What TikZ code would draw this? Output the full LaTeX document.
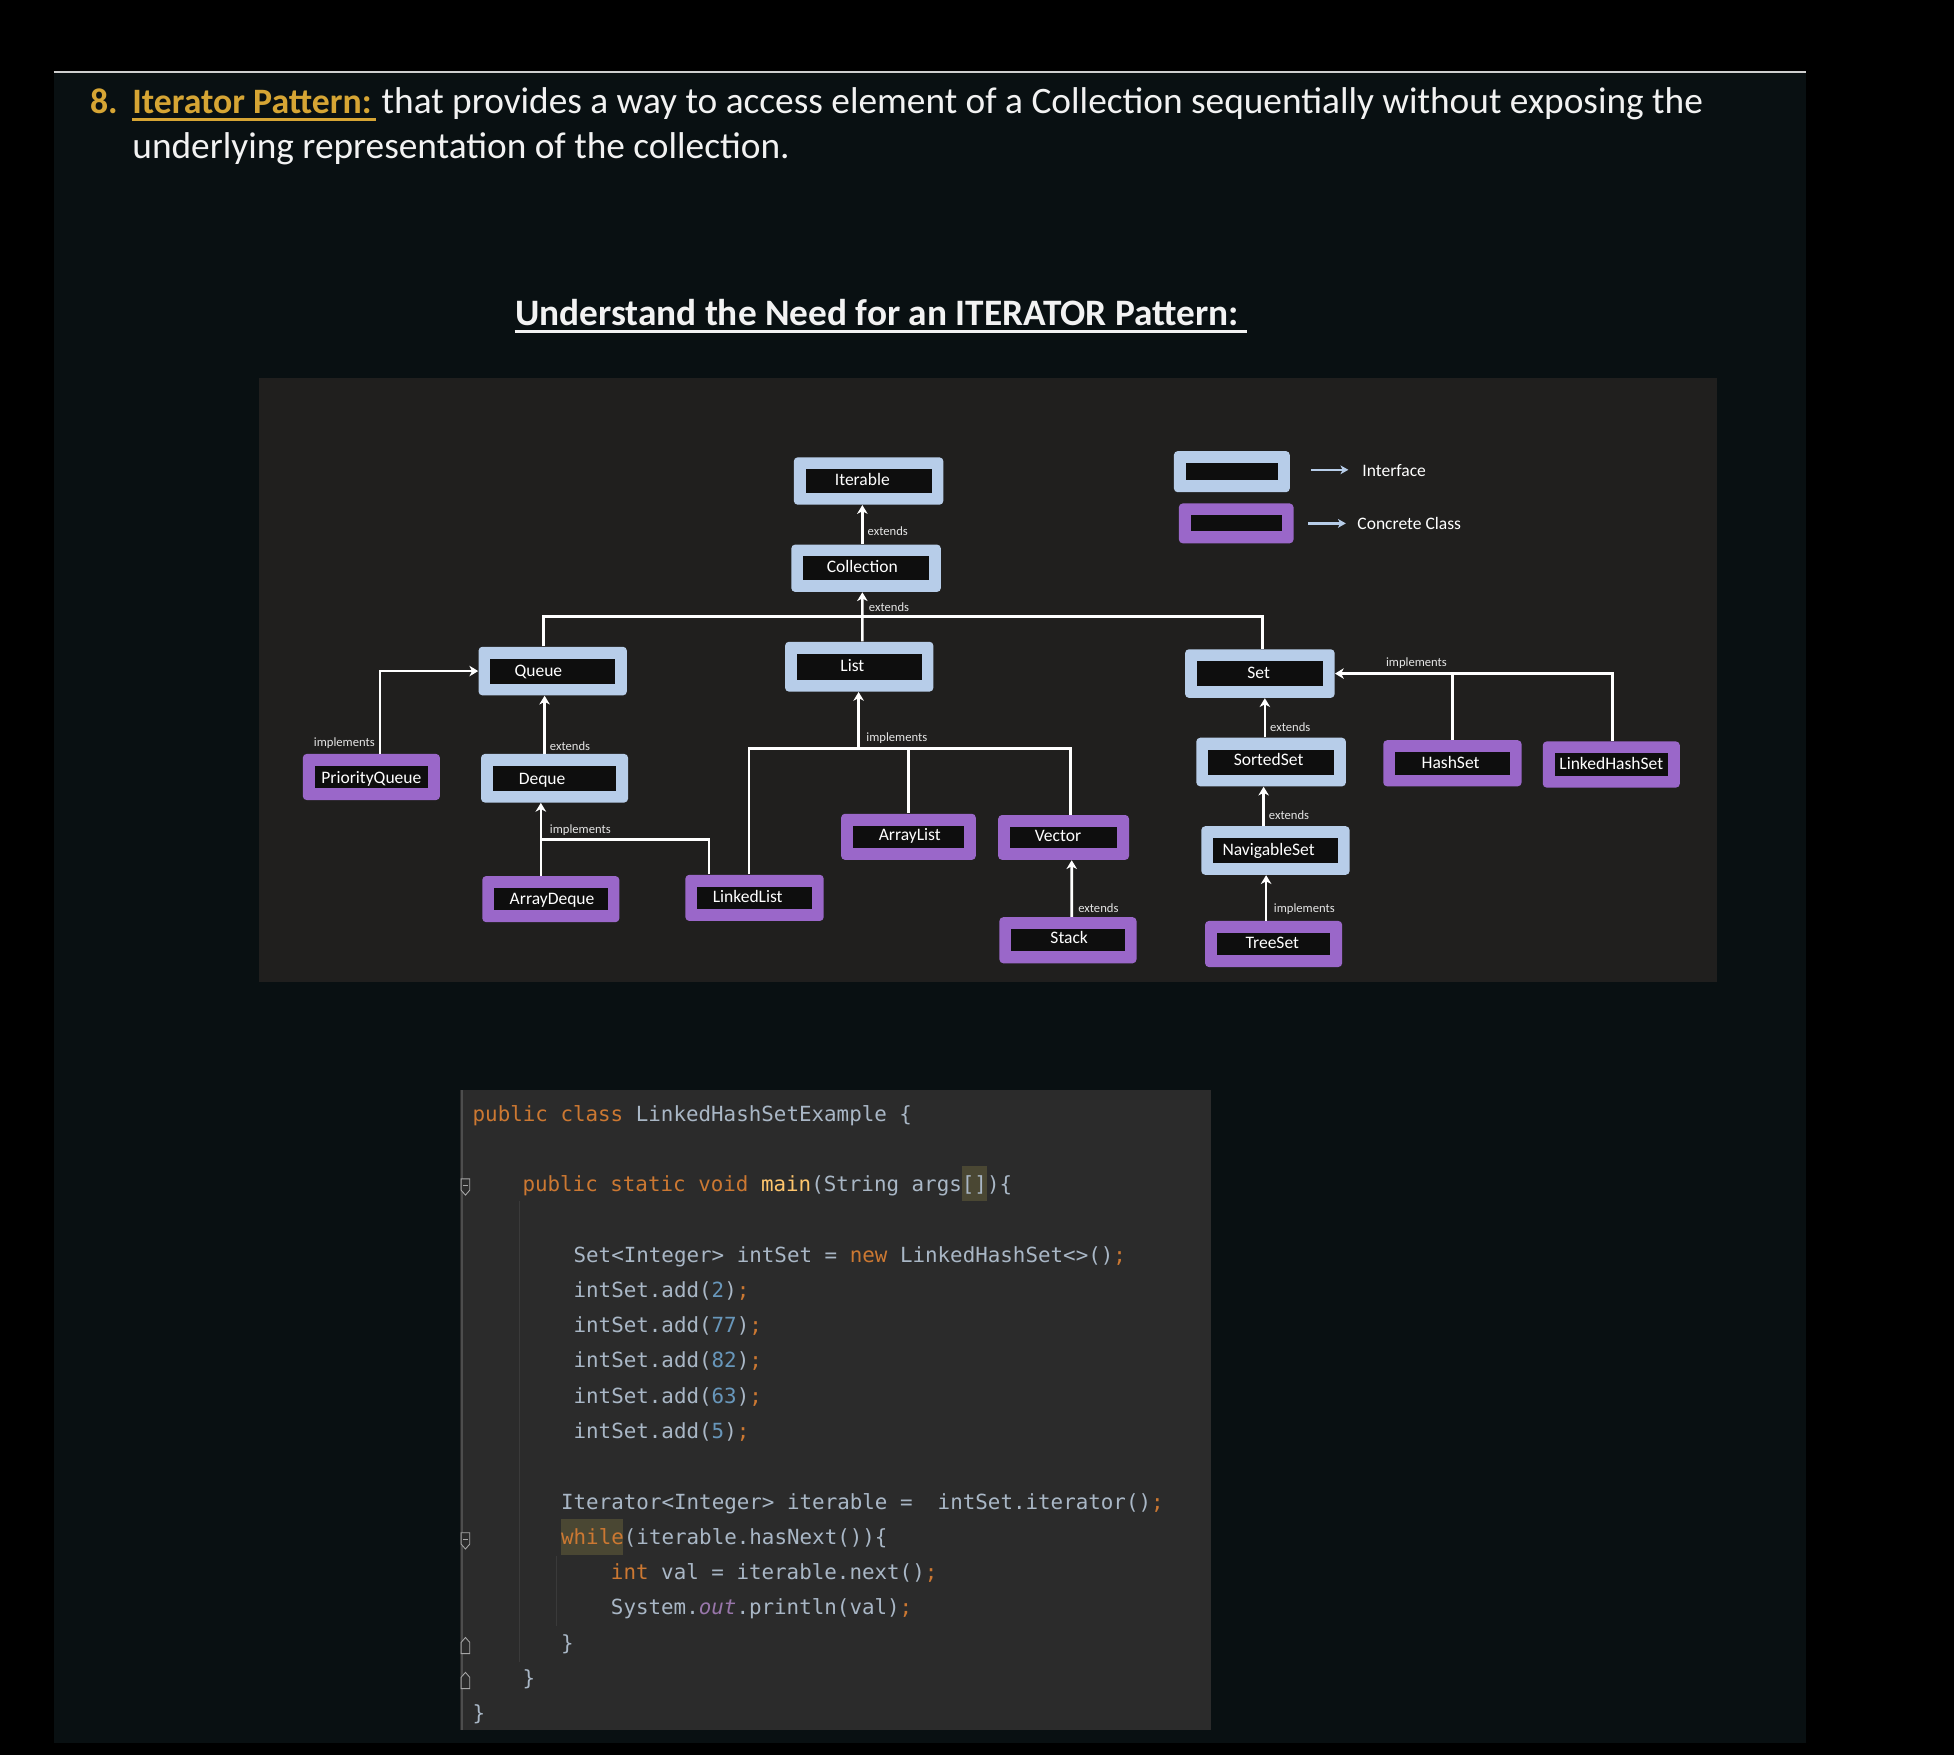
\documentclass[tikz,border=0pt]{standalone}
\usepackage{fontspec}
\setmainfont{Carlito}
\newfontfamily\codefont{DejaVu Sans Mono}
\usetikzlibrary{arrows.meta,calc}
\definecolor{tealbg}{HTML}{091012}
\definecolor{panelbg}{HTML}{201F1E}
\definecolor{ifc}{HTML}{B7CDE9}
\definecolor{cls}{HTML}{9A67C9}
\definecolor{innerc}{HTML}{0E0E0E}
\definecolor{gold}{HTML}{D6A534}
\definecolor{titlewhite}{HTML}{F2F2F2}
\definecolor{rulegray}{HTML}{CFCFCF}
\definecolor{codebg}{HTML}{2B2B2B}
\definecolor{gutter}{HTML}{4D4D4D}
\definecolor{guide}{HTML}{3A3A3A}
\definecolor{ckw}{HTML}{CC7832}
\definecolor{cpl}{HTML}{A9B7C6}
\definecolor{cnum}{HTML}{6897BB}
\definecolor{cfn}{HTML}{FFC66D}
\definecolor{cfield}{HTML}{9876AA}
\definecolor{chl}{HTML}{4A4733}
\newcommand\cK[1]{\textcolor{ckw}{#1}}
\newcommand\cN[1]{\textcolor{cnum}{#1}}
\newcommand\cF[1]{\textcolor{cfn}{#1}}
\newcommand\cO[1]{\textcolor{cfield}{\itshape #1}}
\newcommand\titlesize{\fontsize{21.3}{25}\selectfont}
\newcommand\goldsize{\fontsize{20.4}{25}\selectfont}
\newcommand\umlbox[9]{%
  \node[ubox,fill=#2,minimum width=#5*0.025cm,minimum height=#6*0.025cm] (#1) at (#3,#4) {};
  \node[ntext] (#1-t) at (#7,#8) {#9};}
\newcommand\foldopen[2]{%
  \filldraw[draw=gray!70,fill=codebg,line width=0.5pt] (370,#2)--(377,#2)--(377,#2+9)--(373.5,#2+13)--(370,#2+9)--cycle;
  \draw[gray!70,line width=0.5pt] (371.5,#2+5.5)--(375.5,#2+5.5);}
\newcommand\foldclose[2]{%
  \filldraw[draw=gray!70,fill=codebg,line width=0.5pt] (370,#2+13)--(377,#2+13)--(377,#2+4)--(373.5,#2)--(370,#2+4)--cycle;}
\begin{document}
\begin{tikzpicture}[x=0.025cm,y=-0.025cm,
  ubox/.style={rectangle,rounded corners=2.2pt,inner sep=0pt,draw=none,
    path picture={\fill[innerc,sharp corners] ($(path picture bounding box.north west)+(9.5,9.5)$) rectangle ($(path picture bounding box.south east)+(-9.5,-9.5)$);}},
  ntext/.style={text=white,font=\fontsize{10}{12}\selectfont,inner sep=0pt,anchor=base},
  lbl/.style={text=white!90!black,font=\fontsize{7.2}{9}\selectfont,inner sep=0pt,anchor=base west},
  wire/.style={draw=white,line width=1.5pt},
  arr/.style={wire,-{Stealth[length=5pt,width=6pt,inset=1.5pt]}},
  legarr/.style={draw=ifc,line width=1.3pt,-{Stealth[length=4.5pt,width=5pt,inset=1.2pt]}},
  ttl/.style={anchor=base west,inner sep=0pt,font=\titlesize},
  code/.style={font=\codefont\fontsize{11.9}{14}\selectfont,text=cpl,inner sep=0pt,anchor=base west}]
\useasboundingbox (0,0) rectangle (1568,1408);
\fill[black] (0,0) rectangle (1568,1408);
\fill[tealbg] (43,58) rectangle (1449,1399);
\draw[rulegray,line width=1.1pt] (43,57.5) -- (1449,57.5);
% titles
\node[ttl,text=gold,font=\goldsize\bfseries] (num) at (72,91) {8.};
\node[ttl,text=gold,font=\goldsize\bfseries] (ip) at (106,91) {Iterator Pattern:};
\draw[gold,line width=1.8pt] ($(ip.base west)+(0,4.8)$) -- ++(196,0);
\node[ttl,text=titlewhite] (desc) at (306,91) {that provides a way to access element of a Collection sequentially without exposing the};
\node[ttl,text=titlewhite] (desc2) at (106,127) {underlying representation of the collection.};
\node[ttl,text=titlewhite,font=\titlesize\bfseries] (head) at (413,261) {Understand the Need for an ITERATOR Pattern:};
\draw[titlewhite,line width=1.8pt] ($(head.base west)+(0,5)$) -- ++(588,0);
% diagram panel
\fill[panelbg] (208,303) rectangle (1378,788);
\umlbox{iterable}{ifc}{697}{386}{120}{38}{692}{389.5}{Iterable}
\umlbox{collection}{ifc}{695}{456}{120}{38}{692}{459.5}{Collection}
\umlbox{list}{ifc}{689.5}{535}{119}{40}{684}{538.5}{List}
\umlbox{queue}{ifc}{443.5}{538.5}{119}{39}{432}{542.5}{Queue}
\umlbox{deque}{ifc}{445}{624.5}{118}{39}{435}{629.5}{Deque}
\umlbox{pq}{cls}{298}{623.5}{110}{37}{298}{628.5}{PriorityQueue}
\umlbox{arraydeque}{cls}{442}{721.5}{110}{37}{443}{725.5}{ArrayDeque}
\umlbox{linkedlist}{cls}{605.5}{720.5}{111}{37}{600}{724.5}{LinkedList}
\umlbox{arraylist}{cls}{729}{671.5}{108}{37}{730}{674.5}{ArrayList}
\umlbox{vector}{cls}{853.5}{672}{105}{36}{849}{675.5}{Vector}
\umlbox{stack}{cls}{857}{754.5}{110}{37}{858}{757.5}{Stack}
\umlbox{set}{ifc}{1011}{540.5}{120}{39}{1010}{544.5}{Set}
\umlbox{sortedset}{ifc}{1020}{611.5}{120}{39}{1018}{614.5}{SortedSet}
\umlbox{navset}{ifc}{1023.5}{682.5}{119}{39}{1018}{686.5}{NavigableSet}
\umlbox{treeset}{cls}{1022}{757.5}{110}{37}{1021}{761.5}{TreeSet}
\umlbox{hashset}{cls}{1165.5}{612.5}{111}{37}{1164}{616.5}{HashSet}
\umlbox{lhs}{cls}{1293}{613.5}{110}{37}{1293}{617.5}{LinkedHashSet}
% legend
\node[ubox,fill=ifc,minimum width=93*0.025cm,minimum height=33*0.025cm] (legI) at (988.5,378.5) {};
\node[ubox,fill=cls,minimum width=92*0.025cm,minimum height=32*0.025cm] (legC) at (992,420) {};
\coordinate (la1) at (1052,377);
\coordinate (la2) at (1050,420);
\node[anchor=base west,inner sep=0pt,text=white,font=\fontsize{10}{12}\selectfont] (legIt) at (1093,382.5) {Interface};
\node[anchor=base west,inner sep=0pt,text=white,font=\fontsize{10}{12}\selectfont] (legCt) at (1089,424.5) {Concrete Class};
\draw[legarr] (la1) -- ++(30,0);
\draw[legarr] (la2) -- ++(30,0);
% connectors
\draw[arr] ($(collection.north)+(-3,0)$) -- ($(iterable.south)+(-5,0)$);
\draw[arr] ($(list.north)+(2.5,0)$) -- ($(collection.south)+(-3,0)$);
\draw[wire] ($(queue.north)+(-7.5,0)$) |- ($(set.north)+(2,-26)$) -- ($(set.north)+(2,0)$);
\draw[arr] ($(pq.north)+(7,0)$) |- (queue.west);
\draw[arr] ($(deque.north)+(-8,0)$) -- ($(queue.south)+(-6.5,0)$);
\draw[arr] ($(arraydeque.north)+(-8,0)$) -- ($(deque.south)+(-11,0)$);
\draw[wire] ($(linkedlist.north)+(-36.5,0)$) |- ($(arraydeque.north)+(-8,-29)$);
\draw[wire] ($(linkedlist.north)+(-4.5,0)$) |- ($(vector.north)+(5.5,-53)$) -- ($(vector.north)+(5.5,0)$);
\draw[wire] (arraylist.north) -- ++(0,-52);
\draw[arr] ($(list.south)+(-0.5,46)$) -- ($(list.south)+(-0.5,0)$);
\draw[arr] ($(stack.north)+(3,0)$) -- ($(vector.south)+(6.5,0)$);
\draw[arr] ($(sortedset.north)+(-5,0)$) -- ($(set.south)+(4,0)$);
\draw[arr] ($(navset.north)+(-9.5,0)$) -- ($(sortedset.south)+(-6,0)$);
\draw[arr] ($(treeset.north)+(-6,0)$) -- ($(navset.south)+(-7.5,0)$);
\draw[arr] ($(lhs.north)+(1,0)$) |- (set.east);
\draw[wire] (hashset.north) -- ++(0,-54);
% labels
\node[lbl] (l-ci) at (696,430) {extends};
\node[lbl] (l-lc) at (697,491) {extends};
\node[lbl,anchor=base east] (l-pq) at (301,599) {implements};
\node[lbl] (l-dq) at (441,602) {extends};
\node[lbl] (l-ad) at (441,669) {implements};
\node[lbl] (l-li) at (695,595) {implements};
\node[lbl] (l-st) at (865,732) {extends};
\node[lbl] (l-ss) at (1019,587) {extends};
\node[lbl] (l-ns) at (1018,658) {extends};
\node[lbl] (l-ts) at (1022,732) {implements};
\node[lbl] (l-hs) at (1112,535) {implements};
% code block
\fill[codebg] (369,875) rectangle (972,1388);
\draw[gutter,line width=1.1pt] (370.5,875) -- (370.5,1388);
\draw[guide,line width=0.7pt] (416.9,964) -- (416.9,1334);
\draw[guide,line width=0.7pt] (446.8,1249) -- (446.8,1305);
\fill[chl] (772,936) rectangle (792,964);
\fill[chl] (450,1219) rectangle (500,1248);
\foldopen{a}{946}
\foldopen{b}{1230}
\foldclose{c}{1314}
\foldclose{d}{1342}
\node[code] (c0) at (379,899.6) {\cK{public class }LinkedHashSetExample \{};
\node[code] (c2) at (419,956.2) {\cK{public static void }\cF{main}(String args[])\{};
\node[code] (c4) at (460,1012.8) {Set<Integer> intSet = \cK{new }LinkedHashSet<>()\cK{;}};
\node[code] (c5) at (460,1041.1) {intSet.add(\cN{2})\cK{;}};
\node[code] (c6) at (460,1069.4) {intSet.add(\cN{77})\cK{;}};
\node[code] (c7) at (460,1097.7) {intSet.add(\cN{82})\cK{;}};
\node[code] (c8) at (460,1126) {intSet.add(\cN{63})\cK{;}};
\node[code] (c9) at (460,1154.3) {intSet.add(\cN{5})\cK{;}};
\node[code] (c11) at (450,1210.9) {Iterator<Integer> iterable =\ \ intSet.iterator()\cK{;}};
\node[code] (c12) at (450,1239.2) {\cK{while}(iterable.hasNext())\{};
\node[code] (c13) at (490,1267.5) {\cK{int }val = iterable.next()\cK{;}};
\node[code] (c14) at (490,1295.8) {System.\cO{out}.println(val)\cK{;}};
\node[code] (c15) at (450,1324.1) {\}};
\node[code] (c16) at (419,1352.4) {\}};
\node[code] (c17) at (379,1380.7) {\}};
\end{tikzpicture}
\end{document}
